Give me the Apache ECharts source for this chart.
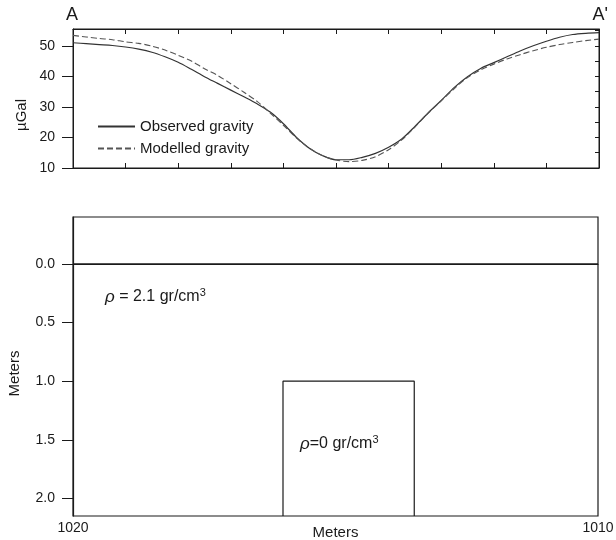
<!DOCTYPE html>
<html><head><meta charset="utf-8">
<script src="https://cdn.jsdelivr.net/npm/echarts@6/dist/echarts.min.js"></script>
<style>html,body{margin:0;padding:0;background:#fff}#c{width:616px;height:540px}</style>
</head><body><div id="c"></div>
<script>
// Profile positions (m) along A–A'
const positions = [1020.00,1019.75,1019.50,1019.25,1019.00,1018.75,1018.50,1018.25,1018.00,1017.75,1017.50,1017.25,1017.00,1016.75,1016.50,1016.25,1016.00,1015.75,1015.50,1015.25,1015.00,1014.75,1014.50,1014.25,1014.00,1013.75,1013.50,1013.25,1013.00,1012.75,1012.50,1012.25,1012.00,1011.75,1011.50,1011.25,1011.00,1010.75,1010.50,1010.25,1010.00];
// Gravity (µGal)
const observed = [51.0,50.7,50.4,50.1,49.6,48.9,47.9,46.4,44.6,42.3,39.9,37.7,35.5,33.3,31.0,28.3,24.5,20.0,16.4,14.0,12.7,12.7,13.5,14.8,16.8,19.5,23.6,28.0,32.1,36.4,39.9,42.6,44.5,46.4,48.3,50.0,51.5,52.8,53.7,54.1,54.3];
const modelled = [53.4,52.9,52.4,52.0,51.3,50.8,49.9,48.6,46.9,45.0,42.5,40.3,37.6,34.8,31.8,28.0,24.0,19.8,16.4,14.0,12.6,12.1,12.5,13.7,16.0,19.2,23.4,27.9,32.0,36.0,39.6,42.1,44.0,45.7,47.1,48.4,49.5,50.4,51.1,51.7,52.2];
// Tick values
const gravityTicks = [10,20,30,40,50];
const gravityMinorTicks = [10,15,20,25,30,35,40,45,50,55];
const distanceTicks = [1010,1011,1012,1013,1014,1015,1016,1017,1018,1019,1020];
const distanceLabels = [1010,1020];
const depthTicks = [0,0.5,1.0,1.5,2.0];
// Model geometry
const surfaceX = [1020,1010];
const surfaceDepth = [0,0];
const cavityX = [1016,1016,1013.5,1013.5];
const cavityDepth = [2.15,1.0,1.0,2.15];

const FONT = "'Liberation Sans', Arial, sans-serif";
const INK = '#1a1a1a';
const chart = echarts.init(document.getElementById('c'), null, {renderer:'canvas'});

const zip = (xs, ys) => xs.map((x,i)=>[x, ys[i]]);

chart.setOption({
  backgroundColor:'#fff',
  animation:false,
  textStyle:{fontFamily:FONT},
  grid:[
    {left:73, top:29, width:526, height:139, show:true, borderColor:INK, borderWidth:1, containLabel:false, outerBoundsMode:'none'},
    {left:73, top:217, width:525, height:299, show:true, borderColor:INK, borderWidth:1.2, containLabel:false, outerBoundsMode:'none'}
  ],
  legend:{
    orient:'vertical', left:92, top:114, itemWidth:37, itemHeight:12, itemGap:7,
    itemStyle:{opacity:0},
    textStyle:{fontFamily:FONT, fontSize:15, color:INK},
    data:['Observed gravity','Modelled gravity']
  },
  xAxis:[
    {gridIndex:0, type:'value', inverse:true, min:1010, max:1020, interval:1, position:'bottom',
     axisLine:{show:true,lineStyle:{color:INK}}, splitLine:{show:false}, axisLabel:{show:false},
     axisTick:{show:true, inside:true, length:5, lineStyle:{color:INK}, customValues:distanceTicks}},
    {gridIndex:0, type:'value', inverse:true, min:1010, max:1020, interval:1, position:'top',
     axisLine:{show:true,lineStyle:{color:INK}}, splitLine:{show:false}, axisLabel:{show:false},
     axisTick:{show:true, inside:true, length:5, lineStyle:{color:INK}, customValues:distanceTicks}},
    {gridIndex:1, type:'value', inverse:true, min:1010, max:1020, interval:1,
     axisLine:{show:true,lineStyle:{color:INK,width:1.2}}, splitLine:{show:false},
     axisTick:{show:false},
     axisLabel:{show:true, customValues:distanceLabels, color:INK, fontSize:14, fontFamily:FONT, margin:5,
       formatter:v=>String(v)},
     name:'Meters', nameLocation:'middle', nameGap:9, nameMoveOverlap:false,
     nameTextStyle:{color:INK, fontSize:15, fontFamily:FONT, verticalAlign:'top'}}
  ],
  yAxis:[
    {gridIndex:0, type:'value', min:10, max:55.5, interval:10, position:'left',
     axisLine:{show:true,lineStyle:{color:INK}}, splitLine:{show:false},
     axisTick:{show:true, inside:false, length:11, lineStyle:{color:INK}, customValues:gravityTicks},
     axisLabel:{show:true, customValues:gravityTicks, color:INK, fontSize:14, fontFamily:FONT, margin:18}},
    {gridIndex:0, type:'value', min:10, max:55.5, interval:5, position:'right',
     axisLine:{show:true,lineStyle:{color:INK}}, splitLine:{show:false},
     axisTick:{show:true, inside:true, length:4, lineStyle:{color:INK}, customValues:gravityMinorTicks},
     axisLabel:{show:false}},
    {gridIndex:1, type:'value', inverse:true, min:-0.4, max:2.15, interval:0.5,
     axisLine:{show:true,lineStyle:{color:INK,width:1.2}}, splitLine:{show:false},
     axisTick:{show:true, inside:false, length:11, lineStyle:{color:INK}, customValues:depthTicks},
     axisLabel:{show:true, customValues:depthTicks, color:INK, fontSize:14, fontFamily:FONT, margin:18,
       formatter:v=>Number(v).toFixed(1)},
     name:'Meters', nameLocation:'middle', nameGap:51, nameRotate:90, nameMoveOverlap:false,
     nameTextStyle:{color:INK, fontSize:15, fontFamily:FONT, padding:[0,14,0,0]}}
  ],
  series:[
    {name:'Observed gravity', type:'line', xAxisIndex:0, yAxisIndex:0, data:zip(positions, observed),
     showSymbol:false, symbol:'none', smooth:0.3, lineStyle:{color:'#333', width:1.2, type:'solid'}, itemStyle:{color:'#333'}},
    {name:'Modelled gravity', type:'line', xAxisIndex:0, yAxisIndex:0, data:zip(positions, modelled),
     showSymbol:false, symbol:'none', smooth:0.3, lineStyle:{color:'#555', width:1.1, type:[6,3]}, itemStyle:{color:'#555'}},
    {name:'surface', type:'line', xAxisIndex:2, yAxisIndex:2, data:zip(surfaceX, surfaceDepth),
     showSymbol:false, symbol:'none', lineStyle:{color:INK, width:1.2}, silent:true},
    {name:'cavity', type:'line', xAxisIndex:2, yAxisIndex:2, data:zip(cavityX, cavityDepth),
     showSymbol:false, symbol:'none', lineStyle:{color:INK, width:1.2}, silent:true}
  ],
  graphic:[
    {type:'text', left:66, top:6, style:{text:'A', fontSize:18, fontFamily:FONT, fill:INK}},
    {type:'text', right:8, top:6, style:{text:"A'", fontSize:18, fontFamily:FONT, fill:INK}},
    {type:'text', x:22, y:115, rotation:Math.PI/2, style:{text:'µGal', fontSize:15, fontFamily:FONT, fill:INK, align:'center', verticalAlign:'middle'}},
    {type:'text', x:105, y:297, style:{
      text:'{i|ρ} = 2.1 gr/cm{s|3}', fontSize:16, fontFamily:FONT, fill:INK, verticalAlign:'middle',
      rich:{i:{fontStyle:'italic', fontSize:17, fontFamily:FONT, fill:INK}, s:{fontSize:11, fontFamily:FONT, fill:INK, padding:[0,0,8,0]}}}},
    {type:'text', x:300, y:444, style:{
      text:'{i|ρ}=0 gr/cm{s|3}', fontSize:16, fontFamily:FONT, fill:INK, verticalAlign:'middle',
      rich:{i:{fontStyle:'italic', fontSize:17, fontFamily:FONT, fill:INK}, s:{fontSize:11, fontFamily:FONT, fill:INK, padding:[0,0,8,0]}}}}
  ]
});
</script>
</body></html>
